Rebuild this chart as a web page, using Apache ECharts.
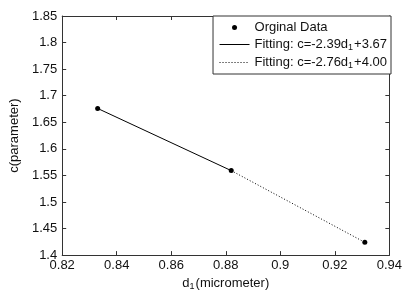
<!DOCTYPE html>
<html>
<head>
<meta charset="utf-8">
<script src="https://cdn.jsdelivr.net/npm/echarts@6/dist/echarts.min.js"></script>
<style>
  html, body { margin: 0; padding: 0; background: #fff; }
  #main { width: 405px; height: 296px; }
</style>
</head>
<body>
<div id="main"></div>
<script>
// tick labels
const xTicks = [0.82, 0.84, 0.86, 0.88, 0.9, 0.92, 0.94]
const yTicks = [1.4, 1.45, 1.5, 1.55, 1.6, 1.65, 1.7, 1.75, 1.8, 1.85]

// measured points
const dataX = [0.833, 0.882, 0.931]
const dataY = [1.676, 1.559, 1.424]

// fitted segments
const fit1X = [0.833, 0.882]
const fit1Y = [1.676, 1.559]
const fit2X = [0.882, 0.931]
const fit2Y = [1.559, 1.424]

const names = ['Orginal Data', 'Fitting: c=-2.39d1+3.67', 'Fitting: c=-2.76d1+4.00']
const richNames = {
  'Orginal Data': '{a|Orginal Data}',
  'Fitting: c=-2.39d1+3.67': '{a|Fitting: c=-2.39d}{s|1}{a|+3.67}',
  'Fitting: c=-2.76d1+4.00': '{a|Fitting: c=-2.76d}{s|1}{a|+4.00}'
}

const font = 'Liberation Sans'
const axisColor = '#333'

const pairs = (xs, ys) => xs.map((x, i) => [x, ys[i]])

const xStep = +(xTicks[1] - xTicks[0]).toFixed(4)
const yStep = +(yTicks[1] - yTicks[0]).toFixed(4)

function xAxisOf(pos, labels) {
  return {
    type: 'value',
    position: pos,
    min: xTicks[0],
    max: xTicks[xTicks.length - 1],
    interval: xStep,
    axisLine: { show: true, lineStyle: { color: axisColor, width: 1 } },
    axisTick: { show: true, inside: true, length: 4, lineStyle: { color: axisColor } },
    axisLabel: { show: labels, margin: 4, color: '#111', fontSize: 13, fontFamily: font },
    splitLine: { show: false }
  }
}

function yAxisOf(pos, labels) {
  return {
    type: 'value',
    position: pos,
    min: yTicks[0],
    max: yTicks[yTicks.length - 1],
    interval: yStep,
    axisLine: { show: true, lineStyle: { color: axisColor, width: 1 } },
    axisTick: { show: true, inside: true, length: 4, lineStyle: { color: axisColor } },
    axisLabel: { show: labels, margin: 5, color: '#111', fontSize: 13, fontFamily: font },
    splitLine: { show: false }
  }
}

const chart = echarts.init(document.getElementById('main'), null, { renderer: 'canvas' })

const xMain = xAxisOf('bottom', true)
xMain.name = '{a|d}{s|1}{a|(micrometer)}'
xMain.nameLocation = 'middle'
xMain.nameGap = 19
xMain.nameTextStyle = {
  rich: {
    a: { fontSize: 13, fontFamily: font, color: '#111' },
    s: { fontSize: 9, fontFamily: font, color: '#111', padding: [6, 1, 0, 0], verticalAlign: 'bottom' }
  }
}

const yMain = yAxisOf('left', true)
yMain.name = 'c(parameter)'
yMain.nameLocation = 'middle'
yMain.nameGap = 39
yMain.nameTextStyle = { fontSize: 13, fontFamily: font, color: '#111' }

const hiddenDot = { color: 'transparent', borderWidth: 0, opacity: 0 }

const option = {
  backgroundColor: '#fff',
  animation: false,
  grid: { left: 56, right: 14, top: 16, bottom: 30 },
  xAxis: [xMain, xAxisOf('top', false)],
  yAxis: [yMain, yAxisOf('right', false)],
  legend: {
    data: [
      { name: names[0] },
      { name: names[1], itemStyle: hiddenDot },
      { name: names[2], itemStyle: hiddenDot }
    ],
    orient: 'vertical',
    right: 14,
    top: 16,
    padding: [5, 4, 4, 6],
    itemGap: 4,
    itemWidth: 30,
    itemHeight: 5,
    lineStyle: { width: 1 },
    backgroundColor: '#fff',
    borderColor: axisColor,
    borderWidth: 1,
    borderRadius: 0,
    formatter: name => richNames[name],
    textStyle: {
      rich: {
        a: { fontSize: 13, fontFamily: font, color: '#111' },
        s: { fontSize: 9, fontFamily: font, color: '#111', padding: [6, 1, 0, 0], verticalAlign: 'bottom' }
      }
    }
  },
  series: [
    {
      name: names[0],
      type: 'scatter',
      data: pairs(dataX, dataY),
      symbol: 'circle',
      symbolSize: 5,
      itemStyle: { color: '#000', opacity: 1 },
      z: 5
    },
    {
      name: names[1],
      type: 'line',
      data: pairs(fit1X, fit1Y),
      symbol: 'none',
      lineStyle: { color: '#000', width: 1, type: 'solid' },
      itemStyle: { color: '#000' }
    },
    {
      name: names[2],
      type: 'line',
      data: pairs(fit2X, fit2Y),
      symbol: 'none',
      lineStyle: { color: '#000', width: 1, type: [1, 2] },
      itemStyle: { color: '#000' }
    }
  ]
}

chart.setOption(option)
</script>
</body>
</html>
